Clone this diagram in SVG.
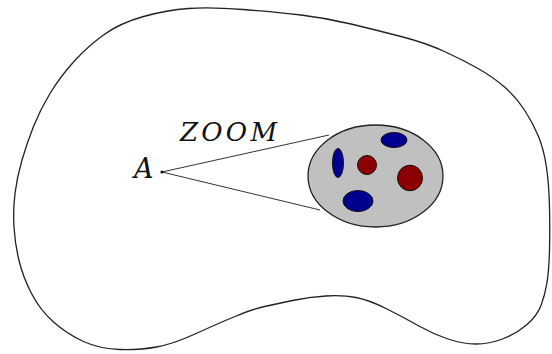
<svg xmlns="http://www.w3.org/2000/svg" width="552" height="354" viewBox="0 0 552 354">
<style>
.outline{fill:none;stroke:#222;stroke-width:1.3}
.conn{stroke:#333;stroke-width:1;fill:none}
.lbl{font-family:"DejaVu Serif","Liberation Serif",serif;font-style:italic;fill:#111}
.blue{fill:#00008f;stroke:#111;stroke-width:1}
.red{fill:#8b0000;stroke:#111;stroke-width:1}
</style>
<rect width="552" height="354" fill="#fff"/>
<g id="region">
<path class="outline" d="M 188.5,8.5 Q 210,7 243,9.5 Q 276,12 301,15 Q 326,18 351,24 Q 376,30 401,36.5 Q 426,43 444.5,51.5 Q 463,60 478,68.5 Q 493,77 504.5,87 Q 516,97 524.5,110 Q 533,123 538.5,136.5 Q 544,150 546.5,167.5 Q 549,185 549.5,207.5 Q 550,230 549.5,250 Q 549,270 547,282.5 Q 545,295 541,305.5 Q 537,316 526.5,325 Q 516,334 502.5,339 Q 489,344 476,344 Q 463,344 448,339 Q 433,334 418,325.5 Q 403,317 386,308.5 Q 369,300 356,297.5 Q 343,295 326,296 Q 309,297 292.5,300.5 Q 276,304 264.5,306.5 Q 253,309 235,316.5 Q 217,324 195,334 Q 173,344 156.5,347 Q 140,350 120,349.5 Q 100,349 83.5,341.5 Q 67,334 53.5,322 Q 40,310 31.5,293.5 Q 23,277 19,260.5 Q 15,244 14,227 Q 13,210 15,193.5 Q 17,177 22,160 Q 27,143 33.5,126.5 Q 40,110 50,93.5 Q 60,77 73.5,62 Q 87,47 103.5,35 Q 120,23 143.5,16.5 Q 167,10 188.5,8.5 Z"/>
</g>
<g id="connectors">
<line class="conn" x1="162" y1="172" x2="329" y2="135"/>
<line class="conn" x1="162" y1="172" x2="320" y2="210"/>
</g>
<g id="pointA">
<circle cx="162" cy="172" r="1.6" fill="#111"/>
<text class="lbl" x="134" y="178" font-size="27">A</text>
</g>
<g id="zoomLabel">
<text class="lbl" x="180" y="141" font-size="26" textLength="97" lengthAdjust="spacing">ZOOM</text>
</g>
<g id="zoomDisk">
<ellipse cx="375.5" cy="176" rx="67.5" ry="51" fill="#c0c0c0" stroke="#222" stroke-width="1.3"/>
<ellipse class="blue" cx="394" cy="140" rx="13" ry="7.5"/>
<ellipse class="blue" cx="338" cy="163" rx="5.5" ry="14.5"/>
<circle class="red" cx="367" cy="165" r="9.5"/>
<ellipse class="red" cx="410" cy="178" rx="12.5" ry="12.8"/>
<ellipse class="blue" cx="358" cy="201" rx="15" ry="10.5"/>
</g>
</svg>
